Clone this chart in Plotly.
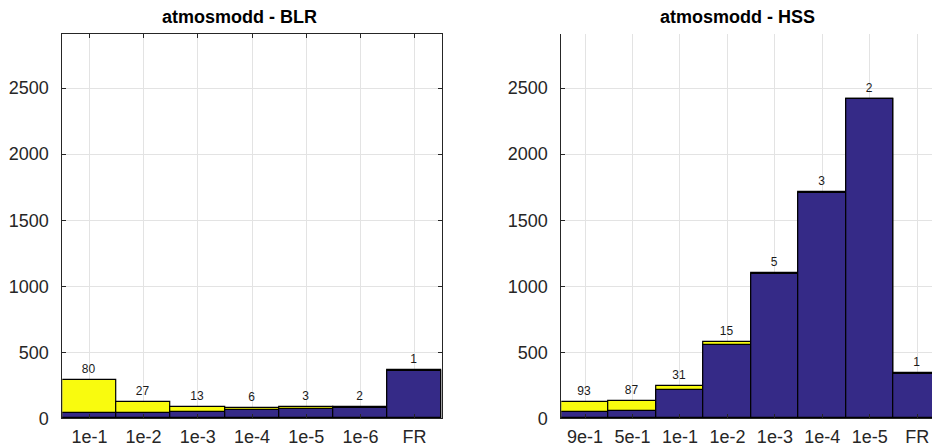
"""
Overlaid histogram-style bar charts: atmosmodd BLR vs HSS.
"""
import plotly.graph_objects as go

YELLOW = "#f9fb0e"
NAVY = "#352a87"
AXIS = "#262626"
GRID = "#e3e3e3"
FONT = "Arial, Liberation Sans, Helvetica, sans-serif"

# BLR panel
blr_cats = ["1e-1", "1e-2", "1e-3", "1e-4", "1e-5", "1e-6", "FR"]
blr_total = [288, 126, 88, 81, 83, 88, 364]
blr_base = [40, 42, 48, 60, 68, 80, 360]
blr_labels = ["80", "27", "13", "6", "3", "2", "1"]

# HSS panel
hss_cats = ["9e-1", "5e-1", "1e-1", "1e-2", "1e-3", "1e-4", "1e-5", "FR"]
hss_total = [126, 131, 247, 576, 1101, 1712, 2421, 341]
hss_base = [45, 55, 214, 555, 1091, 1705, 2415, 338]
hss_labels = ["93", "87", "31", "15", "5", "3", "2", "1"]

yticks = [0, 500, 1000, 1500, 2000, 2500]

W, H = 932, 448

fig = go.Figure()

for cats, total, base, labels, xa, ya in [
    (blr_cats, blr_total, blr_base, blr_labels, "x", "y"),
    (hss_cats, hss_total, hss_base, hss_labels, "x2", "y2"),
]:
    fig.add_trace(go.Bar(
        x=cats, y=total, width=1, xaxis=xa, yaxis=ya,
        marker=dict(color=YELLOW, line=dict(color="black", width=1.2)),
        text=labels, textposition="outside", constraintext="none",
        textfont=dict(family=FONT, size=12, color="#1a1a1a"),
        cliponaxis=False, showlegend=False,
    ))
    fig.add_trace(go.Bar(
        x=cats, y=base, width=1, xaxis=xa, yaxis=ya,
        marker=dict(color=NAVY, line=dict(color="black", width=1.2)),
        showlegend=False,
    ))

axis_common = dict(
    type="category", automargin=False,
    showgrid=True, gridcolor=GRID, gridwidth=1,
    showline=True, linecolor=AXIS, linewidth=1,
    ticks="inside", ticklen=4, tickcolor=AXIS,
    tickfont=dict(family=FONT, size=18, color=AXIS),
    ticklabelstandoff=2, ticklabeloverflow="allow",
    zeroline=False,
)
yaxis_common = dict(
    range=[0, 2910], automargin=False,
    tickvals=yticks,
    showgrid=True, gridcolor=GRID, gridwidth=1,
    showline=True, linecolor=AXIS, linewidth=1,
    ticks="inside", ticklen=4, tickcolor=AXIS,
    tickfont=dict(family=FONT, size=18, color=AXIS),
    ticklabelstandoff=9,
    zeroline=False,
)

ydom = [1 - 418.3 / H, 1 - 34 / H]

fig.update_layout(
    width=W, height=H,
    margin=dict(l=0, r=0, t=0, b=0),
    paper_bgcolor="white", plot_bgcolor="white",
    barmode="overlay", bargap=0,
    xaxis=dict(axis_common, domain=[62.3 / W, 441.7 / W], range=[-0.5, 6.5],
               mirror="ticks", anchor="y"),
    yaxis=dict(yaxis_common, domain=ydom, mirror="ticks", anchor="x"),
    xaxis2=dict(axis_common, domain=[561.3 / W, 1.0], range=[-0.5, 7.31],
                anchor="y2"),
    yaxis2=dict(yaxis_common, domain=ydom, anchor="x2"),
    annotations=[
        dict(text="<b>atmosmodd - BLR</b>", x=239 / W, y=1 - 17 / H,
             xref="paper", yref="paper", showarrow=False,
             xanchor="center", yanchor="middle",
             font=dict(family=FONT, size=18, color="black")),
        dict(text="<b>atmosmodd - HSS</b>", x=737 / W, y=1 - 17 / H,
             xref="paper", yref="paper", showarrow=False,
             xanchor="center", yanchor="middle",
             font=dict(family=FONT, size=18, color="black")),
    ],
)

# drop the browser's default body margin so the figure fills the window
fig.write_html(
    "out.html",
    config={"displayModeBar": False},
    post_script="document.body.style.margin='0';document.body.style.overflow='hidden';",
)
